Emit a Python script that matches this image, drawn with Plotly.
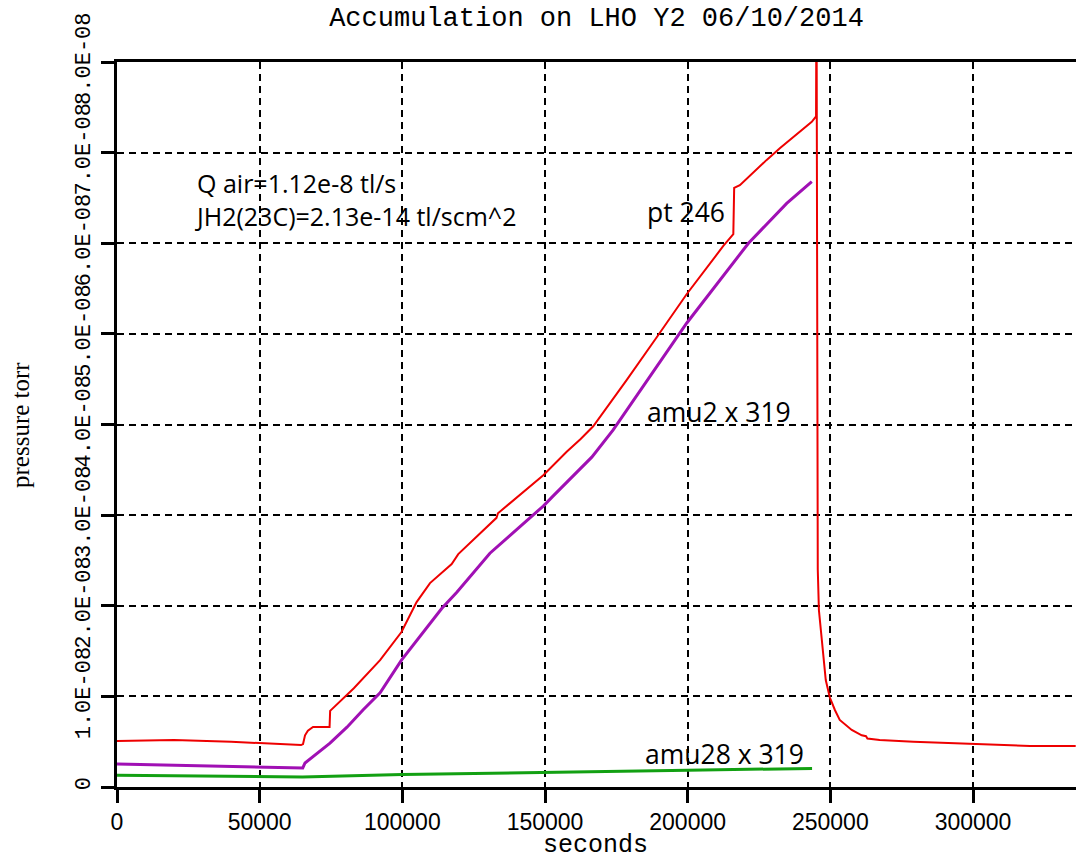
import plotly.graph_objects as go
import numpy as np

# ---------------- data (pressure in units of 1e-8 torr) ----------------
red_x = [0, 20000, 40000, 64500, 65200, 65900, 66900, 68700, 74500, 74700, 83000, 92200,
         99700, 104400, 105000, 109700, 117300, 119600, 133000, 133500, 141200, 149400,
         157600, 162500, 166900, 172500, 178600, 189100, 199700, 212500, 216000, 216300,
         218300, 227700, 232400, 243500, 245000, 245150, 245350, 245600, 246000, 246970,
         248400, 249800, 251600, 253300, 257500, 261000, 262500, 263000, 267300, 279100,
         300100, 320000, 336000]
red_y = [0.508, 0.519, 0.50, 0.463, 0.474, 0.57, 0.62, 0.662, 0.662, 0.84, 1.09, 1.40,
         1.71, 1.99, 2.04, 2.25, 2.46, 2.57, 2.97, 3.02, 3.22, 3.44,
         3.70, 3.84, 3.98, 4.22, 4.49, 4.96, 5.44, 5.97, 6.10, 6.61,
         6.64, 6.92, 7.05, 7.34, 7.40, 9.0, 6.0, 2.40, 1.95, 1.62,
         1.18, 0.99, 0.85, 0.74, 0.63, 0.57, 0.56, 0.535, 0.52, 0.50,
         0.474, 0.452, 0.452]

purple_x = [0, 30000, 64500, 65100, 65900, 74650, 80600, 86200, 92200, 99700, 113800,
            119100, 130700, 145400, 149400, 152800, 166400, 173900, 197300, 199700,
            221300, 234700, 243500]
purple_y = [0.254, 0.23, 0.21, 0.21, 0.265, 0.485, 0.66, 0.85, 1.04, 1.40, 1.97,
            2.15, 2.58, 2.99, 3.10, 3.21, 3.64, 3.94, 5.00, 5.12,
            6.00, 6.44, 6.68]

green_x = [0, 25000, 50000, 65000, 100000, 150000, 200000, 243600]
green_y = [0.13, 0.12, 0.11, 0.11, 0.138, 0.165, 0.185, 0.205]

x_ticks = [0, 50000, 100000, 150000, 200000, 250000, 300000]
x_ticktext = ["0", "50000", "100000", "150000", "200000", "250000", "300000"]
y_ticks = [0, 1e-8, 2e-8, 3e-8, 4e-8, 5e-8, 6e-8, 7e-8, 8e-8]
y_ticktext = ["0", "1.0E-08", "2.0E-08", "3.0E-08", "4.0E-08", "5.0E-08",
              "6.0E-08", "7.0E-08", "8.0E-08"]

title_text = "Accumulation on LHO Y2 06/10/2014"
x_title = "seconds"
y_title = "pressure torr"
notes = ["Q air=1.12e-8 tl/s", "JH2(23C)=2.13e-14 tl/scm^2"]
labels = ["pt 246", "amu2 x 319", "amu28 x 319"]

SCALE = 1e-8

# ---------------- figure ----------------
W, H = 1076, 862
ML, MR, MT, MB = 117, 0, 62, 75
PW, PH = W - ML - MR, H - MT - MB

fig = go.Figure()
fig.add_trace(go.Scatter(x=green_x, y=np.array(green_y) * SCALE, mode="lines",
                         line=dict(color="#12a012", width=3), name="amu28"))
fig.add_trace(go.Scatter(x=purple_x, y=np.array(purple_y) * SCALE, mode="lines",
                         line=dict(color="#a010b4", width=3), name="amu2"))
fig.add_trace(go.Scatter(x=red_x, y=np.array(red_y) * SCALE, mode="lines",
                         line=dict(color="#ee0000", width=2), name="pt 246"))

def px_x(p):
    return (p - ML) / PW

def px_y(p):
    return 1 - (p - MT) / PH

ann = []
ann_font = dict(family="Open Sans", size=26.5, color="black")
ann.append(dict(text=notes[0] + "<br>" + notes[1], x=px_x(193), y=px_y(200),
                xref="paper", yref="paper", align="left",
                xanchor="left", yanchor="middle", showarrow=False,
                font=dict(family="Open Sans", size=25, color="black")))
ann.append(dict(text=labels[0], x=px_x(645), y=px_y(212), xref="paper", yref="paper",
                xanchor="left", yanchor="middle", showarrow=False, font=ann_font))
ann.append(dict(text=labels[1], x=px_x(645), y=px_y(412), xref="paper", yref="paper",
                xanchor="left", yanchor="middle", showarrow=False, font=ann_font))
ann.append(dict(text=labels[2], x=px_x(643), y=px_y(754), xref="paper", yref="paper",
                xanchor="left", yanchor="middle", showarrow=False, font=ann_font))
ann.append(dict(text=y_title, x=px_x(20), y=px_y(425), xref="paper", yref="paper",
                xanchor="center", yanchor="middle", textangle=-90, showarrow=False,
                font=dict(family="Liberation Serif", size=25, color="black")))
ann.append(dict(text=x_title, x=px_x(595), y=px_y(861), xref="paper", yref="paper",
                xanchor="center", yanchor="bottom", showarrow=False, borderpad=0,
                font=dict(family="Liberation Mono", size=25, color="black")))

fig.update_layout(
    width=W, height=H,
    margin=dict(l=ML, r=MR, t=MT, b=MB, pad=0),
    paper_bgcolor="white", plot_bgcolor="white",
    showlegend=False,
    title=dict(text=title_text, x=0.5, xref="paper", xanchor="center",
               y=1 - 17 / H, yref="container", yanchor="middle",
               font=dict(family="Liberation Mono", size=27, color="black")),
    annotations=ann,
    xaxis=dict(range=[0, 336100], tickvals=x_ticks, ticktext=x_ticktext,
               showline=True, linecolor="black", linewidth=2.5, mirror=True,
               ticks="outside", ticklen=13, tickwidth=2.5, tickcolor="black",
               showgrid=True, gridcolor="black", gridwidth=2, griddash="7px,5px",
               zeroline=False,
               tickfont=dict(family="Liberation Sans", size=23, color="black")),
    yaxis=dict(range=[0, 8e-8], tickvals=y_ticks, ticktext=y_ticktext,
               showline=True, linecolor="black", linewidth=2.5, mirror=False,
               ticks="outside", ticklen=13, tickwidth=2.5, tickcolor="black",
               showgrid=True, gridcolor="black", gridwidth=2, griddash="7px,5px",
               zeroline=False, tickangle=-90, ticklabelstandoff=2,
               tickfont=dict(family="Liberation Mono", size=22, color="black")),
)

fig.write_html("out.html", config={"displayModeBar": False},
               post_script="document.body.style.margin='0';document.body.style.overflow='hidden';")
